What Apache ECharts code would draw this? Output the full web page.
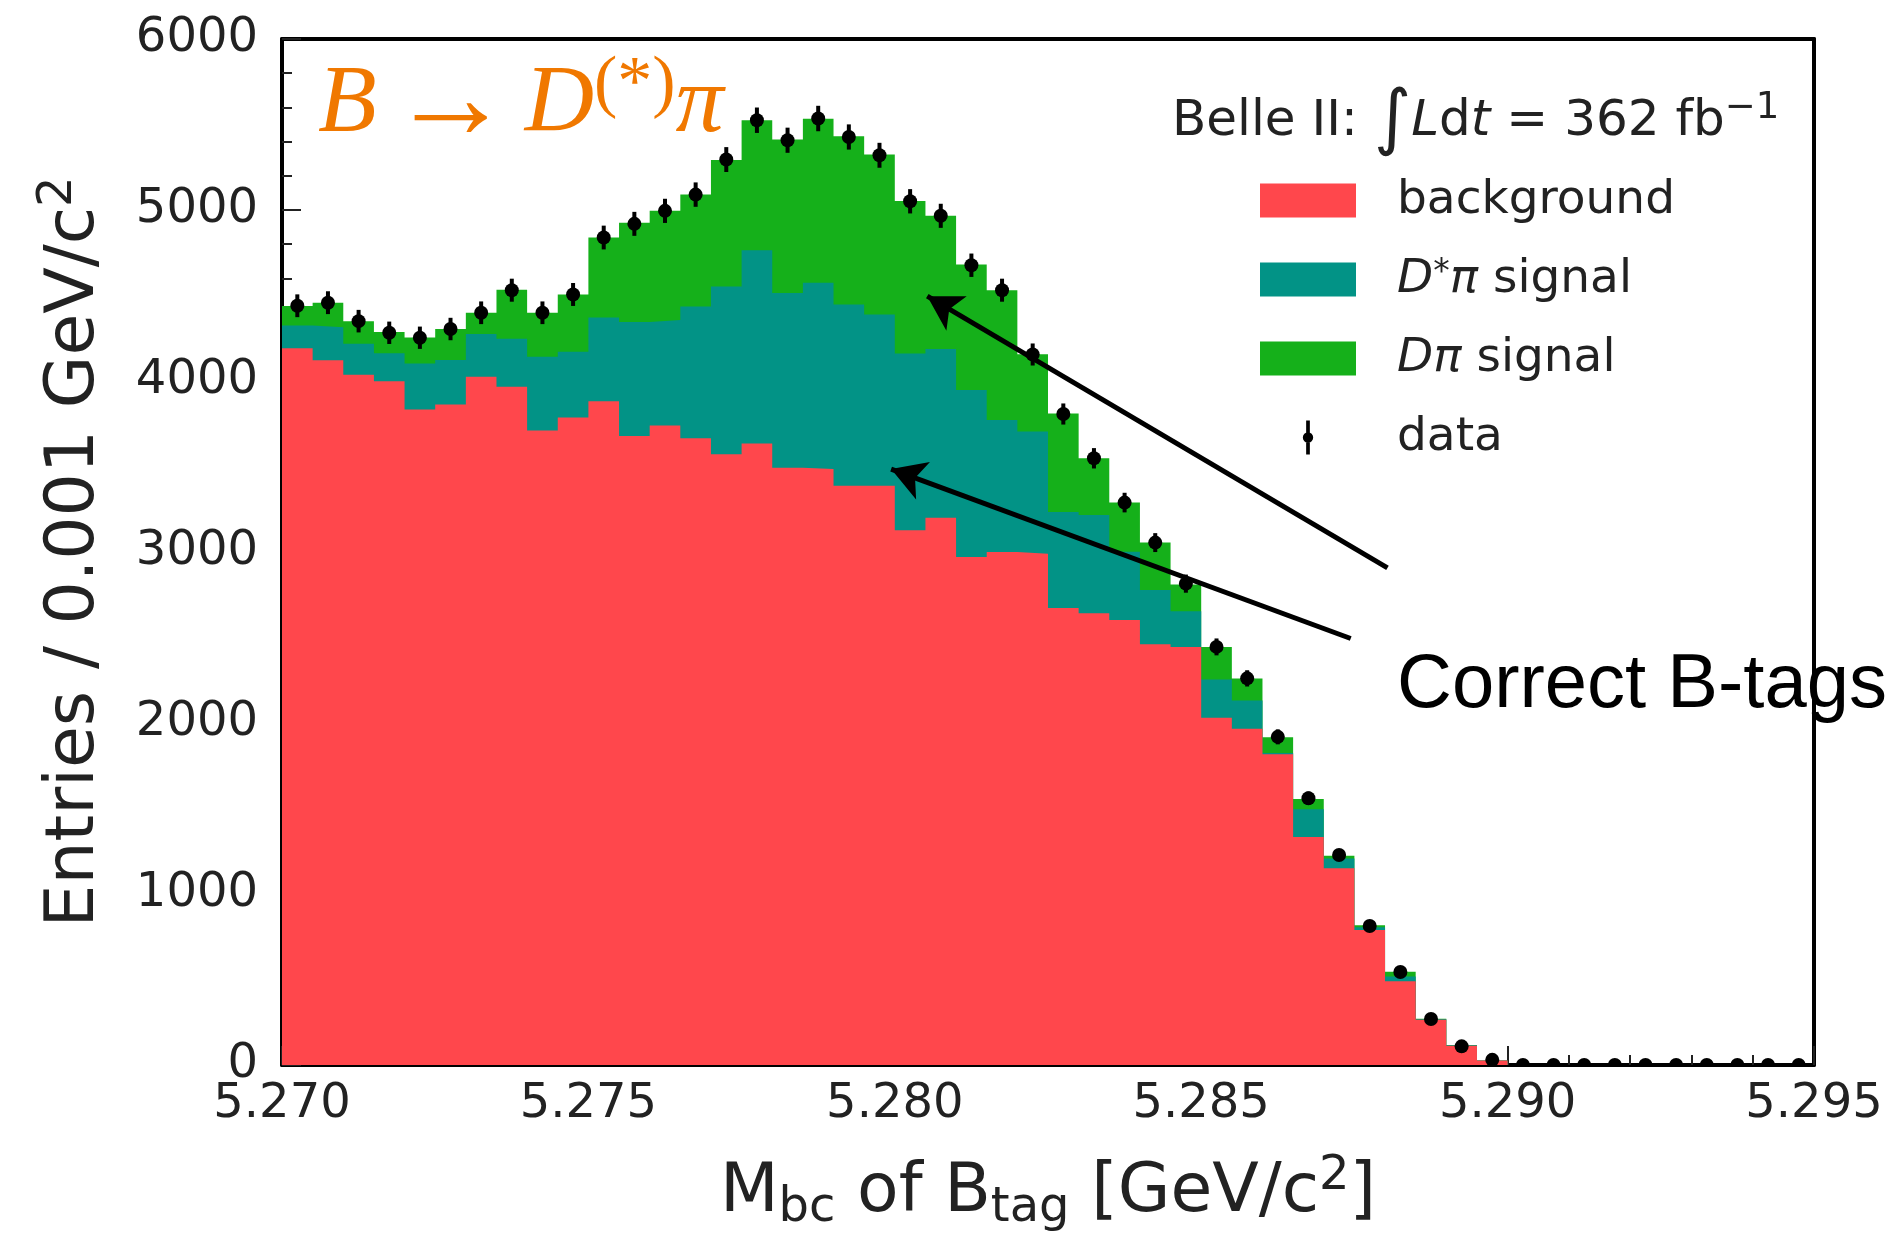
<!DOCTYPE html>
<html>
<head>
<meta charset="utf-8">
<title>Mbc of Btag</title>
<script src="https://cdn.jsdelivr.net/npm/echarts@6/dist/echarts.min.js"></script>
<style>
  html, body { margin: 0; padding: 0; background: #fff; }
  #chart { width: 1896px; height: 1234px; }
</style>
</head>
<body>
<div id="chart"></div>
<script>
  // 50 bins of 0.0005 GeV/c^2 from 5.270 to 5.295
  const xMin = 5.270
  const xMax = 5.295
  const binWidth = 0.0005

  const background = [4191, 4121, 4037, 3998, 3834, 3862, 4025, 3967, 3710, 3786,
    3881, 3679, 3740, 3665, 3571, 3635, 3493, 3485, 3388, 3388,
    3127, 3201, 2971, 3000, 2990, 2673, 2642, 2603, 2461, 2445,
    2031, 1967, 1817, 1334, 1150, 789, 490, 265, 112, 27,
    0, 0, 0, 0, 0, 0, 0, 0, 0, 0]
  const dstarPi = [134, 194, 181, 164, 269, 261, 250, 280, 432, 385,
    491, 666, 616, 771, 981, 1129, 1022, 1089, 1060, 1001,
    1034, 986, 976, 772, 715, 561, 574, 399, 317, 208,
    223, 165, 8, 161, 58, 16, 28, 3, 4, 0,
    0, 0, 0, 0, 0, 0, 0, 0, 0, 0]
  const dPi = [113, 143, 132, 124, 152, 181, 124, 286, 257, 335,
    467, 580, 639, 654, 741, 761, 897, 959, 983, 935,
    892, 779, 734, 759, 451, 576, 332, 287, 277, 157,
    191, 128, 91, 60, 16, 12, 27, 2, 1, 0,
    0, 0, 0, 0, 0, 0, 0, 0, 0, 0]
  const dataCounts = [4440, 4458, 4350, 4282, 4253, 4304, 4399, 4531, 4399, 4506,
    4839, 4919, 4995, 5090, 5295, 5525, 5408, 5535, 5427, 5320,
    5051, 4966, 4677, 4531, 4155, 3807, 3548, 3289, 3055, 2815,
    2445, 2261, 1919, 1560, 1228, 813, 544, 269, 109, 30,
    0, 0, 0, 0, 0, 0, 0, 0, 0, 0]

  const seriesNames = ['background', 'D*π signal', 'Dπ signal', 'data']
  const seriesColors = ['#ff474c', '#029386', '#15b01a', '#000000']
  const legendLabels = {
    'background': '{n|background}',
    'D*π signal': '{it|D}{sup|*}{it|π}{n| signal}',
    'Dπ signal': '{it|Dπ}{n| signal}',
    'data': '{n|data}'
  }

  const edges = background.map((_, i) => +(xMin + i * binWidth).toFixed(4))

  // stacked tops (value-value cartesian can't use echarts' stack on y)
  const dstarTop = background.map((v, i) => v + dstarPi[i])
  const totalTop = dstarTop.map((v, i) => v + dPi[i])

  // histogram outline as points on the bin edges, closed at xMax
  function stepData(vals) {
    const pts = vals.map((v, i) => [edges[i], v])
    pts.push([xMax, vals[vals.length - 1]])
    return pts
  }

  function areaSeries(idx, vals, extra) {
    return Object.assign({
      name: seriesNames[idx],
      type: 'line',
      step: 'end',
      symbol: 'none',
      color: seriesColors[idx],
      itemStyle: {color: seriesColors[idx]},
      lineStyle: {width: 0},
      areaStyle: {color: seriesColors[idx], opacity: 1},
      emphasis: {disabled: true},
      data: stepData(vals)
    }, extra || {})
  }

  const font = 'DejaVu Sans'
  const ink = '#222'
  const orange = '#f07800'

  const chart = echarts.init(document.getElementById('chart'))
  chart.setOption({
    animation: false,
    backgroundColor: '#fff',
    grid: {left: 282, right: 82, top: 39, bottom: 169, containLabel: false, outerBoundsMode: 'none'},
    xAxis: [{
      type: 'value',
      min: xMin,
      max: xMax,
      interval: 0.005,
      position: 'bottom',
      axisLine: {show: true, onZero: false, lineStyle: {color: '#000', width: 4}},
      axisTick: {show: true, inside: true, length: 19, lineStyle: {color: ink, width: 2}},
      minorTick: {show: true, splitNumber: 5, length: 10, lineStyle: {color: ink, width: 2}},
      splitLine: {show: false},
      axisLabel: {
        formatter: v => v.toFixed(3),
        margin: 16, fontSize: 48, fontFamily: font, color: ink,
        showMinLabel: true, showMaxLabel: true
      },
      name: '{n|M}{sub|bc}{n| of B}{sub|tag}{n| [GeV/c}{sup|2}{n|]}',
      nameLocation: 'middle',
      nameGap: 88,
      nameMoveOverlap: false,
      nameTextStyle: {
        rich: {
          n: {fontSize: 68, fontFamily: font, color: ink, lineHeight: 80},
          sub: {fontSize: 48, fontFamily: font, color: ink, lineHeight: 48, verticalAlign: 'bottom'},
          sup: {fontSize: 48, fontFamily: font, color: ink, lineHeight: 48, verticalAlign: 'top'}
        }
      }
    }, {
      type: 'value',
      min: xMin,
      max: xMax,
      position: 'top',
      axisLine: {show: true, onZero: false, lineStyle: {color: '#000', width: 4}},
      axisTick: {show: false},
      axisLabel: {show: false},
      splitLine: {show: false}
    }],
    yAxis: [{
      type: 'value',
      min: 0,
      max: 6000,
      interval: 1000,
      position: 'left',
      axisLine: {show: true, onZero: false, lineStyle: {color: '#000', width: 4}},
      axisTick: {show: true, inside: true, length: 19, lineStyle: {color: ink, width: 2}},
      minorTick: {show: true, splitNumber: 5, length: 10, lineStyle: {color: ink, width: 2}},
      splitLine: {show: false},
      axisLabel: {
        formatter: v => String(v),
        margin: 24, fontSize: 48, fontFamily: font, color: ink,
        showMinLabel: true, showMaxLabel: true
      },
      name: '{n|Entries / 0.001 GeV/c}{sup|2}',
      nameLocation: 'middle',
      nameGap: 167,
      nameMoveOverlap: false,
      nameTextStyle: {
        rich: {
          n: {fontSize: 68, fontFamily: font, color: ink, lineHeight: 80},
          sup: {fontSize: 48, fontFamily: font, color: ink, lineHeight: 48, verticalAlign: 'top'}
        }
      }
    }, {
      type: 'value',
      min: 0,
      max: 6000,
      position: 'right',
      axisLine: {show: true, onZero: false, lineStyle: {color: '#000', width: 4}},
      axisTick: {show: false},
      axisLabel: {show: false},
      splitLine: {show: false}
    }],
    legend: {
      orient: 'vertical',
      left: 1260,
      top: 177,
      padding: 0,
      itemWidth: 96,
      itemHeight: 34,
      itemGap: 32,
      selectedMode: false,
      itemStyle: {borderWidth: 0},
      data: [
        {name: seriesNames[0], icon: 'rect'},
        {name: seriesNames[1], icon: 'rect'},
        {name: seriesNames[2], icon: 'rect'},
        {name: seriesNames[3], icon: 'path://M4.5,0h5v46h-5z M14,23a7,7 0 1,1 -14,0a7,7 0 1,1 14,0z'}
      ],
      formatter: name => legendLabels[name],
      textStyle: {
        fontSize: 47, fontFamily: font, color: ink, lineHeight: 45, padding: [0, 0, 0, 36],
        rich: {
          n: {fontSize: 47, fontFamily: font, color: ink, lineHeight: 45},
          it: {fontSize: 47, fontFamily: font, fontStyle: 'italic', color: ink, lineHeight: 45},
          sup: {fontSize: 33, fontFamily: font, color: ink, lineHeight: 33, verticalAlign: 'top'}
        }
      }
    },
    graphic: [{
      type: 'text',
      x: 318,
      y: 106,
      style: {
        text: '{it|B}{sp| }{ar|→}{sp| }{it|D}{sup|(*)}{it|π}',
        verticalAlign: 'middle',
        rich: {
          it: {font: 'italic 96px "Liberation Serif"', fill: orange, lineHeight: 110},
          sp: {font: '52px "Liberation Serif"', fill: orange, lineHeight: 110},
          ar: {font: '122px "Liberation Serif"', fill: orange, lineHeight: 110},
          sup: {font: '70px "Liberation Serif"', fill: orange, lineHeight: 74, verticalAlign: 'top'}
        }
      }
    }, {
      type: 'text',
      x: 1172,
      y: 122,
      style: {
        text: '{n|Belle II: }{int|∫}{it|L}{n|d}{it|t}{n| = 362 fb}{sup|−1}',
        verticalAlign: 'middle',
        rich: {
          n: {font: '50px "DejaVu Sans"', fill: ink, lineHeight: 64},
          it: {font: 'italic 50px "DejaVu Sans"', fill: ink, lineHeight: 64},
          int: {font: '72px "DejaVu Sans"', fill: ink, lineHeight: 64},
          sup: {font: '37px "DejaVu Sans"', fill: ink, lineHeight: 36, verticalAlign: 'top'}
        }
      }
    }, {
      type: 'text',
      x: 1397,
      y: 686,
      style: {
        text: 'Correct B-tags',
        font: '76px "Liberation Sans"',
        fill: '#000',
        verticalAlign: 'middle'
      }
    }],
    // drawn back to front: full stack, then D*pi + background, then background
    series: [
      areaSeries(2, totalTop),
      areaSeries(1, dstarTop),
      areaSeries(0, background, {
        // annotation arrows pointing at the signal components
        markLine: {
          silent: true,
          symbol: ['none', 'arrow'],
          symbolSize: [30, 34],
          label: {show: false},
          lineStyle: {color: '#000', width: 5, type: 'solid'},
          emphasis: {disabled: true},
          data: [
            [{coord: [5.28804, 2907]}, {coord: [5.28053, 4496]}],
            [{coord: [5.28744, 2494]}, {coord: [5.27994, 3485]}]
          ]
        }
      }),
      {
        name: seriesNames[3],
        type: 'custom',
        z: 10,
        color: seriesColors[3],
        itemStyle: {color: seriesColors[3]},
        clip: true,
        data: dataCounts.map((v, i) => [edges[i] + binWidth / 2, v]),
        renderItem: (params, api) => {
          const x = api.value(0)
          const n = api.value(1)
          const err = Math.sqrt(n)
          const c = api.coord([x, n])
          const lo = api.coord([x, n - err])
          const hi = api.coord([x, n + err])
          return {
            type: 'group',
            children: [
              {type: 'line', shape: {x1: c[0], y1: lo[1], x2: c[0], y2: hi[1]}, style: {stroke: '#000', lineWidth: 4}},
              {type: 'circle', shape: {cx: c[0], cy: c[1], r: 7}, style: {fill: '#000'}}
            ]
          }
        }
      }
    ]
  })
</script>
</body>
</html>
